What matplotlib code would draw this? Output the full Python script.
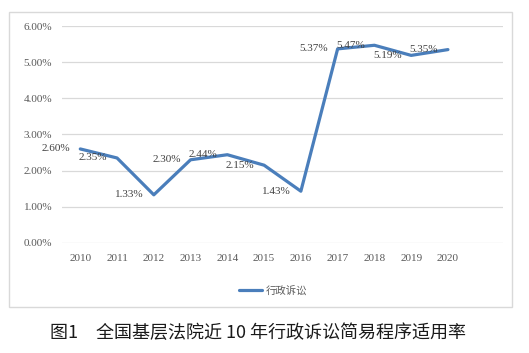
import matplotlib
matplotlib.use("Agg")
import matplotlib.pyplot as plt
from matplotlib.patches import Rectangle
from matplotlib.ticker import FuncFormatter

years = ["2010", "2011", "2012", "2013", "2014", "2015",
         "2016", "2017", "2018", "2019", "2020"]
rates = [2.60, 2.35, 1.33, 2.30, 2.44, 2.15, 1.43, 5.37, 5.47, 5.19, 5.35]
series_name = "行政诉讼"
caption = "图1\u3000全国基层法院近 10 年行政诉讼简易程序适用率"

plt.rcParams["font.family"] = ["Liberation Serif", "Noto Sans CJK SC"]

fig = plt.figure(figsize=(5.29, 3.53), dpi=100)
ax = fig.add_axes([0.117, 0.312, 0.834, 0.614])

x = list(range(len(years)))
line, = ax.plot(x, rates, color="#4a7ebb", lw=2.3, solid_capstyle="round",
                solid_joinstyle="round", label=series_name)

# data labels sit to the left of each point
for xi, v in zip(x, rates):
    ax.annotate(f"{v:.2f}%", (xi, v), xytext=(-7, 0), textcoords="offset points",
                ha="right", va="center", fontsize=8, color="#404040")

# one empty category slot on the right, like the original
ax.set_xlim(-0.5, len(years) + 0.5)
ax.set_ylim(0, 6)
ax.set_yticks([0, 1, 2, 3, 4, 5, 6])
ax.yaxis.set_major_formatter(FuncFormatter(lambda v, p: f"{v:.2f}%"))
ax.set_xticks(x)
ax.set_xticklabels(years)
ax.tick_params(axis="both", length=0, labelsize=8, colors="#595959")
ax.tick_params(axis="y", pad=7)
ax.tick_params(axis="x", pad=8)
ax.grid(axis="y", color="#d9d9d9", lw=0.9)
ax.set_axisbelow(True)
for s in ax.spines.values():
    s.set_visible(False)

fig.legend(handles=[line], labels=[series_name], loc="center",
           bbox_to_anchor=(0.516, 0.178), frameon=False, handlelength=2.2,
           handletextpad=0.3, prop={"family": "Noto Sans CJK SC", "size": 7.5},
           labelcolor="#595959")

fig.patches.append(Rectangle((0.017, 0.130), 0.951, 0.836, transform=fig.transFigure,
                             fill=False, edgecolor="#d9d9d9", lw=1))

fig.text(0.488, 0.057, caption, ha="center", va="center", fontsize=13,
         family="Noto Sans CJK SC", weight="medium", color="#1a1a1a")

fig.savefig("out.png", dpi=100, facecolor="white")
